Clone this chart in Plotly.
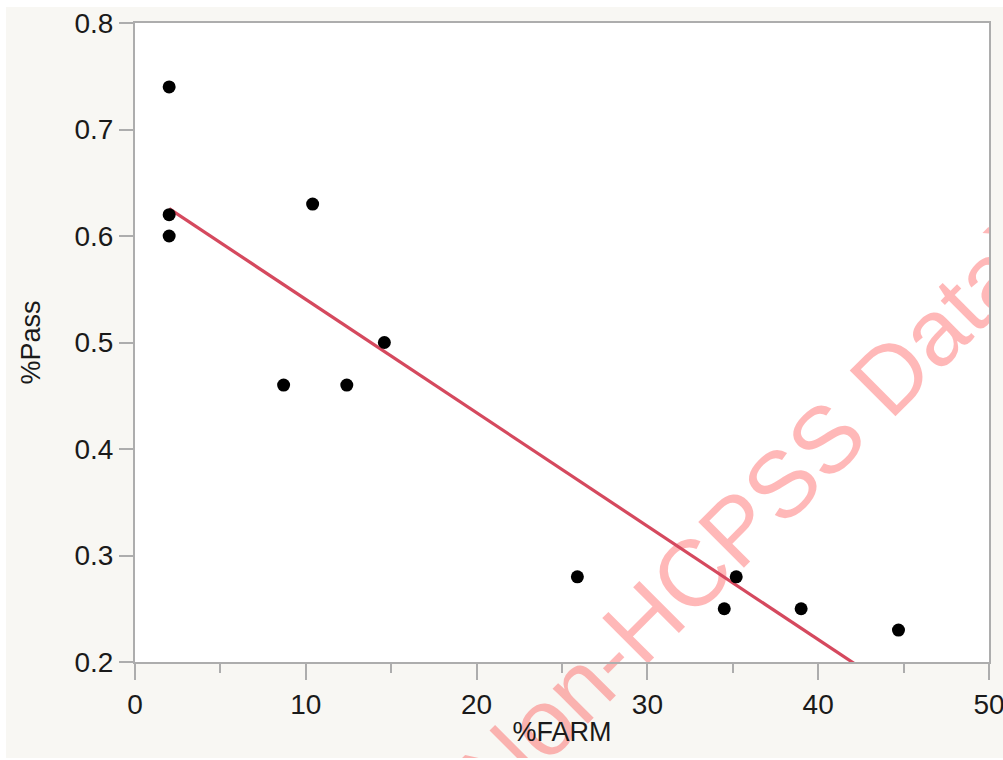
import numpy as np
import plotly.graph_objects as go

# %FARM vs %Pass for each school
farm = [2.0, 2.0, 2.0, 10.4, 8.7, 12.4, 14.6, 25.9, 34.5, 35.2, 39.0, 44.7]
pass_rate = [0.74, 0.62, 0.60, 0.63, 0.46, 0.46, 0.50, 0.28, 0.25, 0.28, 0.25, 0.23]

x_ticks = [0, 10, 20, 30, 40, 50]
y_ticks = [0.2, 0.3, 0.4, 0.5, 0.6, 0.7, 0.8]

W, H = 1003, 760
ML, MR, MT, MB = 135, 14, 23, 98
PW, PH = W - ML - MR, H - MT - MB


def px_x(px):
    return (px - ML) / PW


def px_y(py):
    return (H - MB - py) / PH


# least-squares fit line
slope, intercept = np.polyfit(farm, pass_rate, 1)
fit_x = [min(farm), max(farm)]
fit_y = [intercept + slope * v for v in fit_x]

BG = "#f8f7f3"
AXIS = "#adadad"
TXT = "#1a1a1a"
FONT = "Liberation Sans, Arial, Helvetica, sans-serif"

fig = go.Figure()
fig.add_trace(go.Scatter(
    x=fit_x, y=fit_y, mode="lines",
    line=dict(color="#d5495e", width=3.2),
    hoverinfo="skip", showlegend=False,
))
fig.add_trace(go.Scatter(
    x=farm, y=pass_rate, mode="markers",
    marker=dict(color="black", size=13),
    showlegend=False,
))

shapes = [
    # watermark
    dict(type="rect", xref="paper", yref="paper",
         x0=px_x(730), x1=px_x(740), y0=px_y(523), y1=px_y(513),
         line=dict(width=0), fillcolor="rgba(0,0,0,0)", layer="below",
         label=dict(text="(Non-HCPSS Data)", textangle=-45,
                    textposition="middle center",
                    font=dict(family=FONT, size=94, color="rgba(255,0,0,0.28)"))),
    # right margin panel
    dict(type="rect", xref="paper", yref="paper",
         x0=px_x(989), x1=px_x(W + 5), y0=px_y(H + 5), y1=px_y(7),
         line=dict(width=0), fillcolor=BG, layer="below"),
    # white page edges
    dict(type="rect", xref="paper", yref="paper",
         x0=px_x(-5), x1=px_x(W + 5), y0=px_y(7), y1=px_y(-5),
         line=dict(width=0), fillcolor="white", layer="below"),
    dict(type="rect", xref="paper", yref="paper",
         x0=px_x(-5), x1=px_x(6), y0=px_y(H + 5), y1=px_y(-5),
         line=dict(width=0), fillcolor="white", layer="below"),
    dict(type="rect", xref="paper", yref="paper",
         x0=px_x(-5), x1=px_x(W + 5), y0=px_y(H + 5), y1=px_y(758),
         line=dict(width=0), fillcolor="white", layer="below"),
]

fig.update_layout(
    width=W, height=H,
    margin=dict(l=ML, r=MR, t=MT, b=MB, autoexpand=False),
    paper_bgcolor=BG, plot_bgcolor="white",
    font=dict(family=FONT, size=28, color=TXT),
    shapes=shapes,
    xaxis=dict(
        range=[0, 50], tickvals=x_ticks, showgrid=False, zeroline=False,
        showline=True, linecolor=AXIS, linewidth=2, mirror=True,
        ticks="outside", ticklen=16, tickwidth=2, tickcolor=AXIS,
        minor=dict(dtick=5, ticks="outside", ticklen=9, tickwidth=2, tickcolor=AXIS),
        tickfont=dict(size=28, color=TXT),
        ticklabeloverflow="allow", automargin=False,
        title=dict(text="%FARM", font=dict(size=27, color=TXT), standoff=4),
    ),
    yaxis=dict(
        range=[0.2, 0.8], tickvals=y_ticks, tickformat=".1f",
        showgrid=False, zeroline=False,
        showline=True, linecolor=AXIS, linewidth=2, mirror=True,
        ticks="outside", ticklen=14, tickwidth=2, tickcolor=AXIS,
        tickfont=dict(size=28, color=TXT), automargin=False,
        title=dict(text="%Pass", font=dict(size=27, color=TXT), standoff=26),
    ),
)

fig.write_html("out.html")
